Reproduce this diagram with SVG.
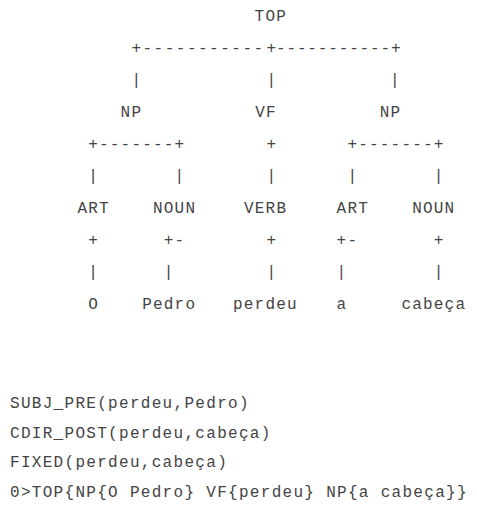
<svg xmlns="http://www.w3.org/2000/svg" width="477" height="506" viewBox="0 0 477 506">
<style>
text{font-family:"Liberation Mono","Courier New",monospace;font-size:16px;letter-spacing:1.2px;fill:#444;white-space:pre}
.rel{letter-spacing:1.3px}
</style>
<rect width="477" height="506" fill="#fff"/>
<g id="connectors">
<text x="131.4" y="53" style="letter-spacing:1.5px">+-----------</text>
<text x="266.4" y="53">+</text>
<text x="276" y="53" style="letter-spacing:0.85px">-----------+</text>
<text x="131.4" y="85">|</text>
<text x="266.4" y="85">|</text>
<text x="390" y="85">|</text>
<text x="88.2" y="149">+-------+</text>
<text x="266.4" y="149">+</text>
<text x="347.4" y="149">+-------+</text>
<text x="88.2" y="181">|       |</text>
<text x="266.4" y="181">|</text>
<text x="347.4" y="181">|       |</text>
<text x="88.2" y="245">+      +-</text>
<text x="266.4" y="245">+</text>
<text x="336.6" y="245">+-       +</text>
<text x="88.2" y="277">|      |</text>
<text x="266.4" y="277">|</text>
<text x="336.6" y="277">|        |</text>
</g>
<g id="n-top"><text x="254.6" y="21">TOP</text></g>
<g id="n-np1"><text x="120.6" y="117">NP</text></g>
<g id="n-vf"><text x="255.2" y="117">VF</text></g>
<g id="n-np2"><text x="379.8" y="117">NP</text></g>
<g id="n-art1"><text x="77.4" y="213">ART</text></g>
<g id="n-noun1"><text x="153" y="213">NOUN</text></g>
<g id="n-verb"><text x="244" y="213">VERB</text></g>
<g id="n-art2"><text x="336.6" y="213">ART</text></g>
<g id="n-noun2"><text x="412.2" y="213">NOUN</text></g>
<g id="n-o"><text x="88.2" y="309">O</text></g>
<g id="n-pedro"><text x="142.2" y="309">Pedro</text></g>
<g id="n-perdeu"><text x="233" y="309">perdeu</text></g>
<g id="n-a"><text x="336.6" y="309">a</text></g>
<g id="n-cabeca"><text x="401.4" y="309">cabeça</text></g>
<g id="relations">
<text class="rel" x="10" y="408">SUBJ_PRE(perdeu,Pedro)</text>
<text class="rel" x="10" y="438">CDIR_POST(perdeu,cabeça)</text>
<text class="rel" x="10" y="467">FIXED(perdeu,cabeça)</text>
<text class="rel" x="10" y="497">0&gt;TOP{NP{O Pedro} VF{perdeu} NP{a cabeça}}</text>
</g>
</svg>
